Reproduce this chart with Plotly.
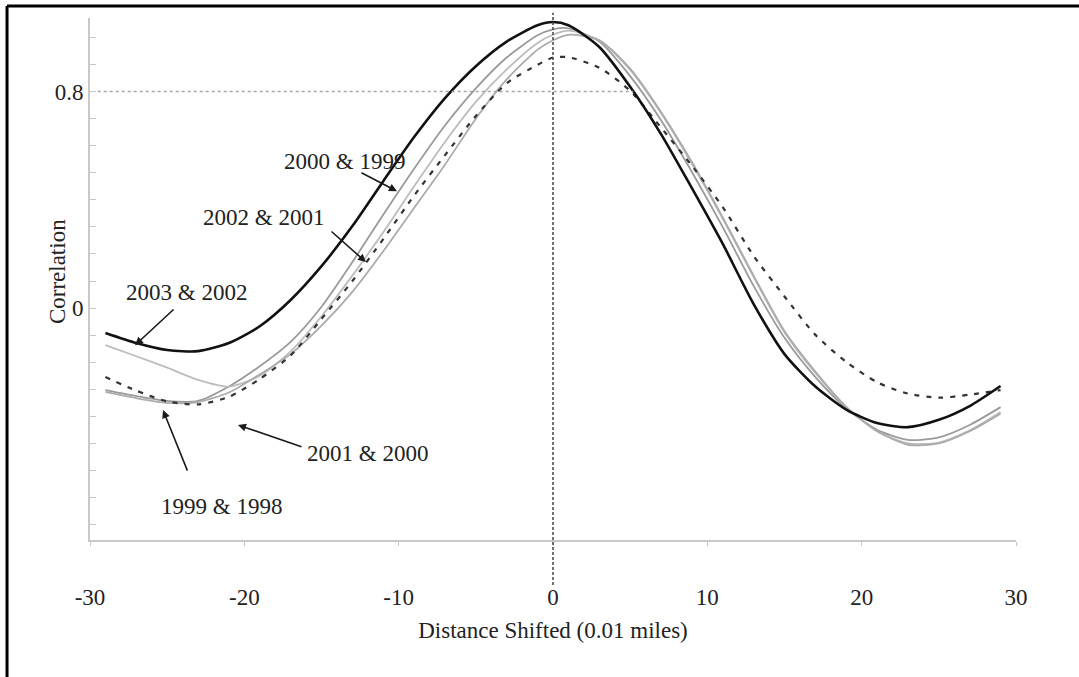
import plotly.graph_objects as go

# Shift distance (0.01 miles)
shift = [-29, -27, -25, -23, -21, -19, -17, -15, -13, -11, -9, -7, -5, -3, -1, 0,
         1, 3, 5, 7, 9, 11, 13, 15, 17, 19, 21, 23, 25, 27, 29]

# Correlation between consecutive years
corr_2003_2002 = [-0.092, -0.129, -0.155, -0.159, -0.129, -0.067, 0.030, 0.155, 0.303, 0.469,
                  0.632, 0.776, 0.894, 0.985, 1.045, 1.057, 1.045, 0.965, 0.818, 0.643,
                  0.443, 0.237, 0.015, -0.170, -0.290, -0.375, -0.425, -0.440, -0.413, -0.362, -0.288]
corr_2000_1999 = [-0.303, -0.325, -0.343, -0.343, -0.290, -0.215, -0.125, 0.005, 0.170, 0.345,
                  0.515, 0.675, 0.812, 0.926, 1.008, 1.030, 1.034, 0.985, 0.857, 0.694,
                  0.503, 0.299, 0.082, -0.110, -0.255, -0.370, -0.450, -0.487, -0.478, -0.432, -0.366]
corr_2002_2001 = [-0.137, -0.178, -0.220, -0.265, -0.290, -0.250, -0.160, -0.030, 0.120, 0.280,
                  0.450, 0.614, 0.762, 0.882, 0.980, 1.010, 1.025, 0.990, 0.880, 0.720,
                  0.533, 0.330, 0.115, -0.090, -0.240, -0.365, -0.455, -0.500, -0.497, -0.452, -0.384]
corr_1999_1998 = [-0.310, -0.333, -0.350, -0.347, -0.312, -0.245, -0.170, -0.065, 0.060, 0.210,
                  0.370, 0.530, 0.700, 0.845, 0.955, 0.990, 1.010, 0.990, 0.885, 0.725,
                  0.540, 0.335, 0.120, -0.085, -0.235, -0.365, -0.455, -0.505, -0.500, -0.455, -0.390]
corr_2001_2000 = [-0.255, -0.305, -0.345, -0.356, -0.328, -0.262, -0.175, -0.040, 0.100, 0.255,
                  0.416, 0.565, 0.710, 0.831, 0.899, 0.926, 0.927, 0.888, 0.803, 0.667,
                  0.526, 0.373, 0.193, 0.043, -0.099, -0.199, -0.274, -0.316, -0.331, -0.320, -0.303]

x_ticks = [-30, -20, -10, 0, 10, 20, 30]
y_ticks = [round(-0.8 + 0.1 * i, 1) for i in range(19)]
y_ticklabels = {0.0: "0", 0.8: "0.8"}

FONT = "Liberation Serif, Times New Roman, serif"
TXT = "#222222"

fig = go.Figure()

series = [
    ("2000 & 1999", corr_2000_1999, dict(color="#9a9a9a", width=1.8)),
    ("2002 & 2001", corr_2002_2001, dict(color="#bcbcbc", width=1.8)),
    ("1999 & 1998", corr_1999_1998, dict(color="#ababab", width=1.8)),
    ("2001 & 2000", corr_2001_2000, dict(color="#333333", width=2.2, dash="5px,7px")),
    ("2003 & 2002", corr_2003_2002, dict(color="#111111", width=2.6)),
]
for name, vals, line in series:
    fig.add_trace(go.Scatter(x=shift, y=vals, mode="lines", name=name,
                             line=dict(shape="spline", smoothing=0.7, **line),
                             showlegend=False, hoverinfo="skip"))

# Reference lines: correlation 0.8 and zero shift
fig.add_shape(type="line", xref="x", yref="y", x0=-29.5, x1=5.2, y0=0.8, y1=0.8,
              line=dict(color="#a8a8a8", width=1.5, dash="dot"))
fig.add_shape(type="line", xref="paper", yref="paper", x0=0.5, x1=0.5, y0=-0.086, y1=1.01,
              line=dict(color="#444444", width=1.5, dash="3px,2px"))

# Page frame (top and left rules)
fig.add_shape(type="line", xref="paper", yref="paper", x0=-0.0896, x1=1.07, y0=1.023, y1=1.023,
              line=dict(color="black", width=3))
fig.add_shape(type="line", xref="paper", yref="paper", x0=-0.0896, x1=-0.0896, y0=-0.27, y1=1.023,
              line=dict(color="black", width=3))

# Series labels with pointer arrows: (text, label pos, arrow tail, arrow head)
labels = [
    ("2000 & 1999", (-13.48, 0.540), (-12.51, 0.503), (-10.11, 0.432)),
    ("2002 & 2001", (-18.79, 0.336), (-14.45, 0.288), (-12.12, 0.170)),
    ("2003 & 2002", (-23.72, 0.059), (-24.49, 0.000), (-27.08, -0.137)),
    ("2001 & 2000", (-11.99, -0.536), (-16.20, -0.514), (-20.41, -0.432)),
    ("1999 & 1998", (-21.51, -0.735), (-23.65, -0.606), (-25.27, -0.377)),
]
for text, (lx, ly), (tx, ty), (hx, hy) in labels:
    fig.add_annotation(x=lx, y=ly, xref="x", yref="y", text=text, showarrow=False,
                       font=dict(family=FONT, size=23, color=TXT),
                       xanchor="center", yanchor="middle")
    fig.add_annotation(x=hx, y=hy, ax=tx, ay=ty, xref="x", yref="y", axref="x", ayref="y",
                       text="", showarrow=True, arrowhead=2, arrowsize=1,
                       arrowwidth=1.6, arrowcolor="#1a1a1a")

# Vertical axis title
fig.add_annotation(x=-0.0357, y=0.515, xref="paper", yref="paper", text="Correlation",
                   textangle=-90, showarrow=False,
                   font=dict(family=FONT, size=23, color=TXT),
                   xanchor="center", yanchor="middle")

fig.update_layout(
    width=1079, height=677,
    margin=dict(l=90, r=63, t=18, b=137),
    paper_bgcolor="white", plot_bgcolor="white",
    font=dict(family=FONT, size=23, color=TXT),
    xaxis=dict(range=[-30, 30], tickvals=x_ticks, ticktext=[str(v) for v in x_ticks],
               showgrid=False, zeroline=False, showline=True, linecolor="#c8c8c8", linewidth=2,
               ticks="outside", ticklen=4, tickcolor="#c8c8c8", ticklabelstandoff=31,
               tickfont=dict(family=FONT, size=23, color=TXT),
               title=dict(text="Distance Shifted (0.01 miles)", standoff=13,
                          font=dict(family=FONT, size=23, color=TXT)),
               automargin=False),
    yaxis=dict(range=[-0.857, 1.072], tickvals=y_ticks,
               ticktext=[y_ticklabels.get(v, "") for v in y_ticks],
               showgrid=False, zeroline=False, showline=True, linecolor="#c8c8c8", linewidth=2,
               ticks="inside", ticklen=6, tickcolor="#c8c8c8", ticklabelstandoff=0,
               tickfont=dict(family=FONT, size=23, color=TXT),
               automargin=False),
)

fig.write_html("out.html")
